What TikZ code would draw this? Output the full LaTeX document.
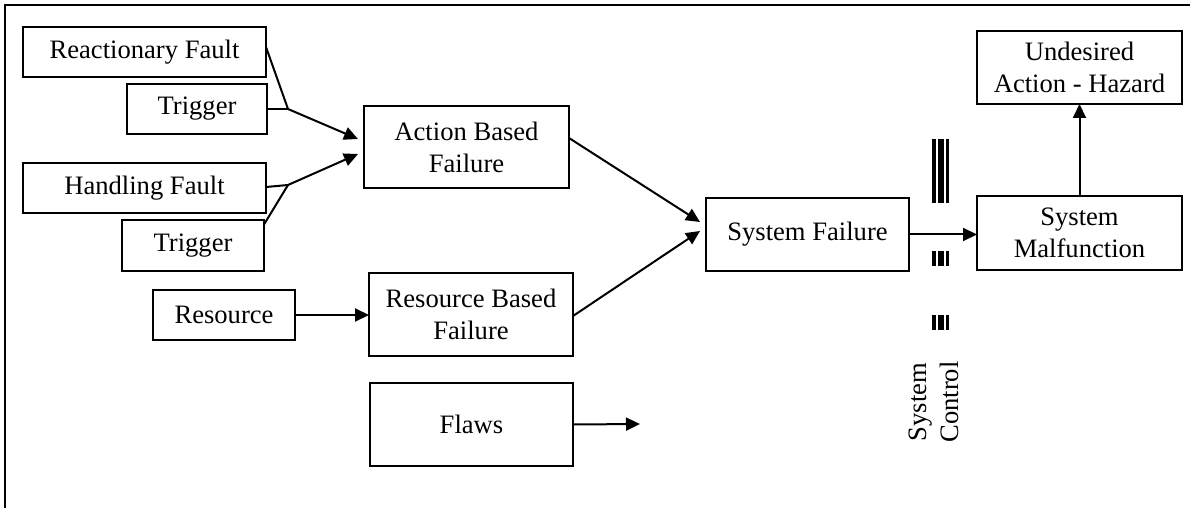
\documentclass[tikz,border=0pt]{standalone}
\usepackage{fontspec}
\setmainfont{Liberation Serif}
\usepackage{tikz}
\usetikzlibrary{arrows.meta}
\usetikzlibrary{calc}
\tikzset{blk/.style={draw,line width=1pt,inner sep=0pt,outer sep=0pt,align=center,font=\fontsize{13.3}{16}\selectfont},
  lnk/.style={line width=1pt},
  arr/.style={line width=1pt,-{Triangle[length=7pt,width=6.5pt]}}}
\begin{document}
\begin{tikzpicture}[x=0.5pt,y=-0.5pt]
\useasboundingbox (0,0) rectangle (1190,508);
%% frame
\draw[line width=1.4pt] (5,508) -- (5,5) -- (1190,5);
% faults and triggers
\node[blk,minimum width=121.5pt,minimum height=25pt] (rf) at (144.5,52) {Reactionary Fault};
\node[blk,minimum width=70pt,minimum height=25pt] (tr1) at (197,109) {Trigger};
\node[blk,minimum width=121.5pt,minimum height=25pt] (hf) at (144.5,188) {Handling Fault};
\node[blk,minimum width=71pt,minimum height=25.5pt] (tr2) at (193,245.5) {Trigger};
\node[blk,minimum width=71pt,minimum height=25pt] (res) at (224,315) {Resource};
% failures
\node[blk,minimum width=102.5pt,minimum height=41pt] (abf) at (466.5,147) {Action Based\\Failure};
\node[blk,minimum width=102pt,minimum height=41.5pt] (rbf) at (471,314.5) {Resource Based\\Failure};
\node[blk,minimum width=101.5pt,minimum height=41.5pt] (fl) at (471.5,424.5) {Flaws};
\node[blk,minimum width=101.5pt,minimum height=36.5pt] (sf) at (807.5,234.5) {System Failure};
\node[blk,minimum width=102.5pt,minimum height=37pt] (sm) at (1079.5,233) {System\\Malfunction};
\node[blk,minimum width=102.5pt,minimum height=36.5pt] (ua) at (1079.5,67.5) {Undesired\\Action - Hazard};
\node[align=center,rotate=90,font=\fontsize{13.3}{16}\selectfont] (sc) at (934,402) {System\\Control};

\coordinate (j1) at (288,109);
\coordinate (j2) at (288,185);
\coordinate (fe) at (640,424);

\draw[lnk] ([shift={(0,-5)}]rf.east) -- (j1);
\draw[lnk] (tr1.east) -- (j1);
\draw[arr] (j1) -- ([shift={(-6,-8)}]abf.west);
\draw[lnk] ([shift={(0,-1)}]hf.east) -- (j2);
\draw[lnk] ([shift={(0,4.5)}]tr2.north east) -- (j2);
\draw[arr] (j2) -- ([shift={(-6,7)}]abf.west);
\draw[arr] (res.east) -- (res.east -| rbf.west);
\draw[arr] ([shift={(0,-9)}]abf.east) -- ([shift={(-6,-12.5)}]sf.west);
\draw[arr] ([shift={(0,1.5)}]rbf.east) -- ([shift={(-6,-3.5)}]sf.west);
\draw[arr] (sf.east) -- (sf.east -| sm.west);
\draw[arr] (sm.north) -- (ua.south);
\draw[arr] (fl.east) -- (fe);

% control bars
\foreach \ya/\yb in {139/203, 251/266, 315/330}{
  \fill (932.3,\ya) rectangle (935.9,\yb);
  \fill (937.5,\ya) rectangle (943.5,\yb);
  \fill (945.5,\ya) rectangle (948.5,\yb);
}
\end{tikzpicture}
\end{document}
